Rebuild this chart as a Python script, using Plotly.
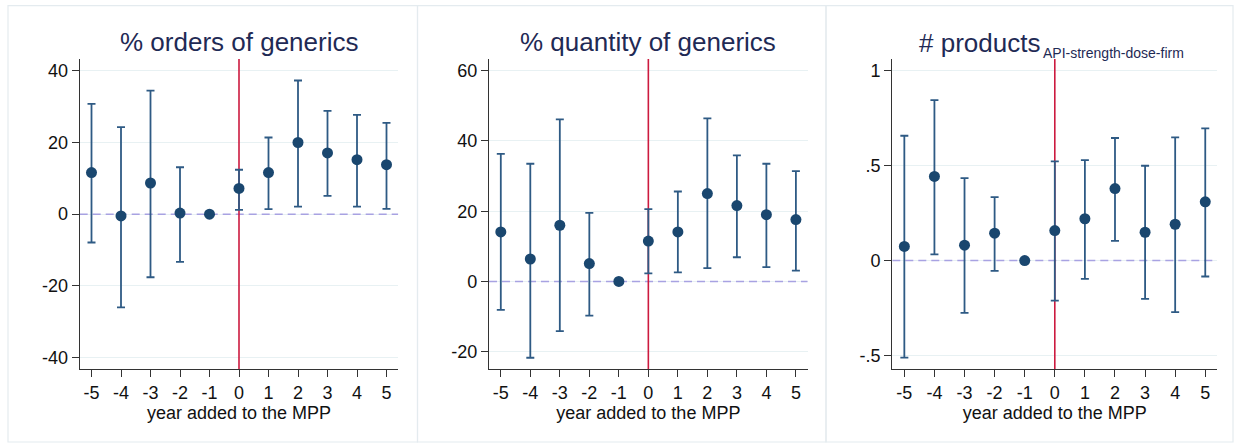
import plotly.graph_objects as go

W, H = 1239, 448

years = [-5, -4, -3, -2, -1, 0, 1, 2, 3, 4, 5]
x_ticktext = ["-5", "-4", "-3", "-2", "-1", "0", "1", "2", "3", "4", "5"]

orders_est = [11.6, -0.5, 8.7, 0.3, 0.0, 7.2, 11.6, 20.0, 17.1, 15.2, 13.8]
orders_hi = [30.8, 24.3, 34.5, 13.1, 0.0, 12.4, 21.4, 37.3, 28.8, 27.7, 25.5]
orders_lo = [-7.9, -26.0, -17.6, -13.3, 0.0, 1.2, 1.4, 2.1, 5.1, 2.1, 1.5]

qty_est = [14.1, 6.4, 16.0, 5.1, 0.0, 11.5, 14.1, 25.0, 21.6, 19.0, 17.6]
qty_hi = [36.3, 33.5, 46.1, 19.5, 0.0, 20.6, 25.6, 46.4, 35.9, 33.5, 31.4]
qty_lo = [-8.1, -21.7, -14.1, -9.7, 0.0, 2.3, 2.6, 3.8, 6.9, 4.1, 3.1]

prod_est = [0.074, 0.443, 0.081, 0.144, 0.0, 0.158, 0.220, 0.379, 0.149, 0.191, 0.309]
prod_hi = [0.657, 0.845, 0.434, 0.334, 0.0, 0.522, 0.529, 0.645, 0.499, 0.648, 0.696]
prod_lo = [-0.511, 0.032, -0.276, -0.054, 0.0, -0.211, -0.097, 0.104, -0.202, -0.272, -0.084]

titles = ["% orders of generics", "% quantity of generics", "# products"]
title3_sub = "API-strength-dose-firm"
y_tickvals = [[-40, -20, 0, 20, 40], [-20, 0, 20, 40, 60], [-0.5, 0, 0.5, 1]]
y_ticktext = [["-40", "-20", "0", "20", "40"], ["-20", "0", "20", "40", "60"], ["-.5", "0", ".5", "1"]]
y_ranges = [[-43.2, 43.3], [-24.9, 63.3], [-0.571, 1.061]]
x_range = [-5.4, 5.4]
x_title = "year added to the MPP"

series = [(orders_est, orders_lo, orders_hi), (qty_est, qty_lo, qty_hi), (prod_est, prod_lo, prod_hi)]

# pixel layout (left, right) of each plot area, top/bottom shared
plot_px = [(79.7, 398.3), (489.0, 807.7), (892.3, 1217.3)]
top_px, bot_px = 59.0, 369.0
frames_px = [(8, 417.5), (417.5, 826), (826, 1233)]

FONT = "Liberation Sans, Arial, Helvetica, sans-serif"
NAVY = "#1a476f"
BAR = "#2e5a84"
TITLE_C = "#1f2a55"

fig = go.Figure()
shapes = []
annotations = []

for i, (est, lo, hi) in enumerate(series):
    xa = "x" if i == 0 else f"x{i+1}"
    ya = "y" if i == 0 else f"y{i+1}"
    # zero dashed reference line
    fig.add_trace(go.Scatter(
        x=x_range, y=[0, 0], mode="lines", xaxis=xa, yaxis=ya,
        line=dict(color="#a8a2e2", width=1.6, dash="8px,5px"),
        showlegend=False, hoverinfo="skip"))
    # red vertical line at 0
    fig.add_trace(go.Scatter(
        x=[0, 0], y=y_ranges[i], mode="lines", xaxis=xa, yaxis=ya,
        line=dict(color="#cc1a3f", width=1.6),
        showlegend=False, hoverinfo="skip"))
    fig.add_trace(go.Scatter(
        x=years, y=est, mode="markers", xaxis=xa, yaxis=ya,
        marker=dict(color=NAVY, size=11, line=dict(width=0)),
        error_y=dict(type="data", symmetric=False,
                     array=[h - e for h, e in zip(hi, est)],
                     arrayminus=[e - l for e, l in zip(est, lo)],
                     color=BAR, thickness=1.8, width=4),
        showlegend=False, hoverinfo="skip"))

    l, r = plot_px[i]
    dom_x = [l / W, r / W]
    dom_y = [1 - bot_px / H, 1 - top_px / H]
    axis_common = dict(showline=True, linecolor="#333333", linewidth=1.2,
                       ticks="outside", ticklen=7, tickwidth=1.2, tickcolor="#333333",
                       tickfont=dict(family=FONT, size=18, color="#111111"),
                       zeroline=False)
    xkey = "xaxis" if i == 0 else f"xaxis{i+1}"
    ykey = "yaxis" if i == 0 else f"yaxis{i+1}"
    fig.update_layout({
        xkey: dict(domain=dom_x, anchor=ya, range=x_range,
                   tickvals=years, ticktext=x_ticktext, showgrid=False,
                   title=dict(text=x_title, font=dict(family=FONT, size=18, color="#111111"), standoff=4),
                   **axis_common),
        ykey: dict(domain=dom_y, anchor=xa, range=y_ranges[i],
                   tickvals=y_tickvals[i], ticktext=y_ticktext[i],
                   showgrid=True, gridcolor="#e8f1f3", gridwidth=1.2,
                   **axis_common),
    })
    # panel frame
    fl, fr = frames_px[i]
    shapes.append(dict(type="rect", xref="paper", yref="paper",
                       x0=fl / W, x1=fr / W, y0=1 - 442 / H, y1=1 - 5.7 / H,
                       line=dict(color="#e4ebef", width=1.2), fillcolor="rgba(0,0,0,0)", layer="below"))
    # title
    if i < 2:
        annotations.append(dict(text=titles[i], xref="paper", yref="paper",
                                x=(l + r) / 2 / W, y=1 - 42 / H, xanchor="center", yanchor="middle",
                                showarrow=False, font=dict(family=FONT, size=26, color=TITLE_C)))
    else:
        annotations.append(dict(text=titles[i], xref="paper", yref="paper",
                                x=1042 / W, y=1 - 43 / H, xanchor="right", yanchor="middle",
                                showarrow=False, font=dict(family=FONT, size=26, color=TITLE_C)))
        annotations.append(dict(text=title3_sub, xref="paper", yref="paper",
                                x=1041 / W, y=1 - 52.5 / H, xanchor="left", yanchor="middle",
                                showarrow=False, font=dict(family=FONT, size=14, color=TITLE_C)))

fig.update_layout(width=W, height=H, margin=dict(l=0, r=0, t=0, b=0),
                  paper_bgcolor="white", plot_bgcolor="white",
                  shapes=shapes, annotations=annotations)

fig.write_html("out.html")
